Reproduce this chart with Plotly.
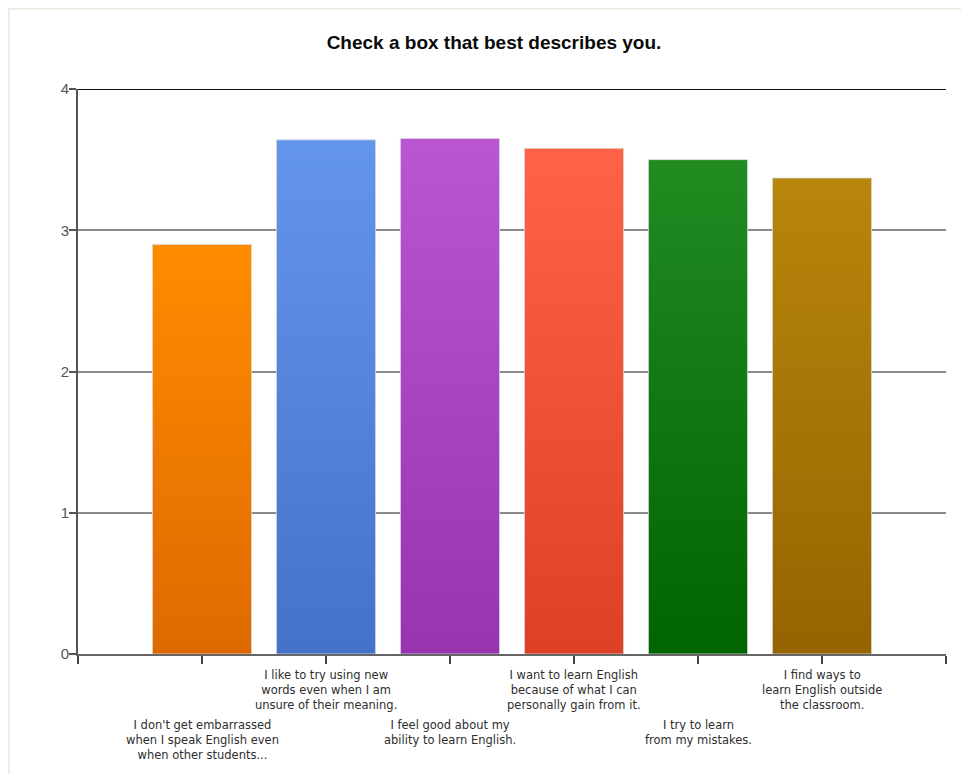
import plotly.graph_objects as go

categories = [
    "I don't get embarrassed<br>when I speak English even<br>when other students...",
    "I like to try using new<br>words even when I am<br>unsure of their meaning.",
    "I feel good about my<br>ability to learn English.",
    "I want to learn English<br>because of what I can<br>personally gain from it.",
    "I try to learn<br>from my mistakes.",
    "I find ways to<br>learn English outside<br>the classroom.",
]
values = [2.9, 3.64, 3.65, 3.58, 3.5, 3.37]
top_colors = ["#FF8C00", "#6495ED", "#BA55D3", "#FF6347", "#228B22", "#B8860B"]
bottom_colors = ["#DD6A00", "#4472C8", "#9933B0", "#DC4125", "#006400", "#966400"]
label_row = [1, 0, 1, 0, 1, 0]  # 0 = upper row, 1 = lower row
yticks = [0, 1, 2, 3, 4]

bar_half = 0.4

# page has an 8px body margin, so the figure is laid out 8px up/left of target
L, R, T, B = 70, 31, 81, 128
PW = 969 - L - R
PH = 774 - T - B

fig = go.Figure()
for i, (v, ct, cb) in enumerate(zip(values, top_colors, bottom_colors)):
    x0, x1 = i - bar_half, i + bar_half
    fig.add_trace(go.Scatter(
        x=[x0, x0, x1, x1, x0],
        y=[0, v, v, 0, 0],
        mode="lines",
        line=dict(color="rgba(220,220,220,0.8)", width=1),
        fill="toself",
        fillgradient=dict(type="vertical", colorscale=[[0, cb], [1, ct]], start=0, stop=v),
        hoverinfo="skip",
        showlegend=False,
    ))

for i, (lab, row) in enumerate(zip(categories, label_row)):
    fig.add_annotation(
        x=i, xref="x", y=0, yref="y",
        text=lab, showarrow=False,
        yanchor="top", xanchor="center", align="center",
        yshift=-12 if row == 0 else -62,
        font=dict(family="DejaVu Sans", size=11.5, color="#2E2E2E"),
    )

# light outer frame of the original image
fx = (0.5 - L) / PW
fy = 1 + (T - 0.5) / PH
fig.add_shape(type="line", xref="paper", yref="paper", x0=fx, x1=fx, y0=-0.3, y1=fy,
              line=dict(color="#ECE8DE", width=2))
fig.add_shape(type="line", xref="paper", yref="paper", x0=fx, x1=1.05, y0=fy, y1=fy,
              line=dict(color="#ECE8DE", width=2))

fig.update_layout(
    width=969, height=774,
    margin=dict(l=L, r=R, t=T, b=B),
    paper_bgcolor="white", plot_bgcolor="white",
    title=dict(text="<b>Check a box that best describes you.</b>",
               x=486 / 969, xanchor="center",
               y=1 - 34 / 774, yanchor="middle",
               font=dict(family="Liberation Sans, Arial", size=19, color="#0A0A0A")),
    xaxis=dict(range=[-1, 6], tickvals=list(range(-1, 7)), showticklabels=False,
               ticks="outside", ticklen=8, tickcolor="#444444", tickwidth=1.5,
               showgrid=False, zeroline=False,
               showline=True, linecolor="#666666", linewidth=2, mirror=False),
    yaxis=dict(range=[0, 4], tickvals=yticks, ticks="outside", ticklen=7,
               tickcolor="#555555", tickwidth=1.5, ticklabelstandoff=-3,
               tickfont=dict(family="Liberation Sans, Arial", size=15, color="#555555"),
               showgrid=True, gridcolor="#8A8A8A", gridwidth=1.5, zeroline=False,
               showline=True, linecolor="#555555", linewidth=2),
)
# top line at y=4 (black, thicker)
fig.add_shape(type="line", xref="paper", yref="y", x0=0, x1=1, y0=4, y1=4,
              line=dict(color="#111111", width=2), layer="above")

fig.write_html("out.html")
